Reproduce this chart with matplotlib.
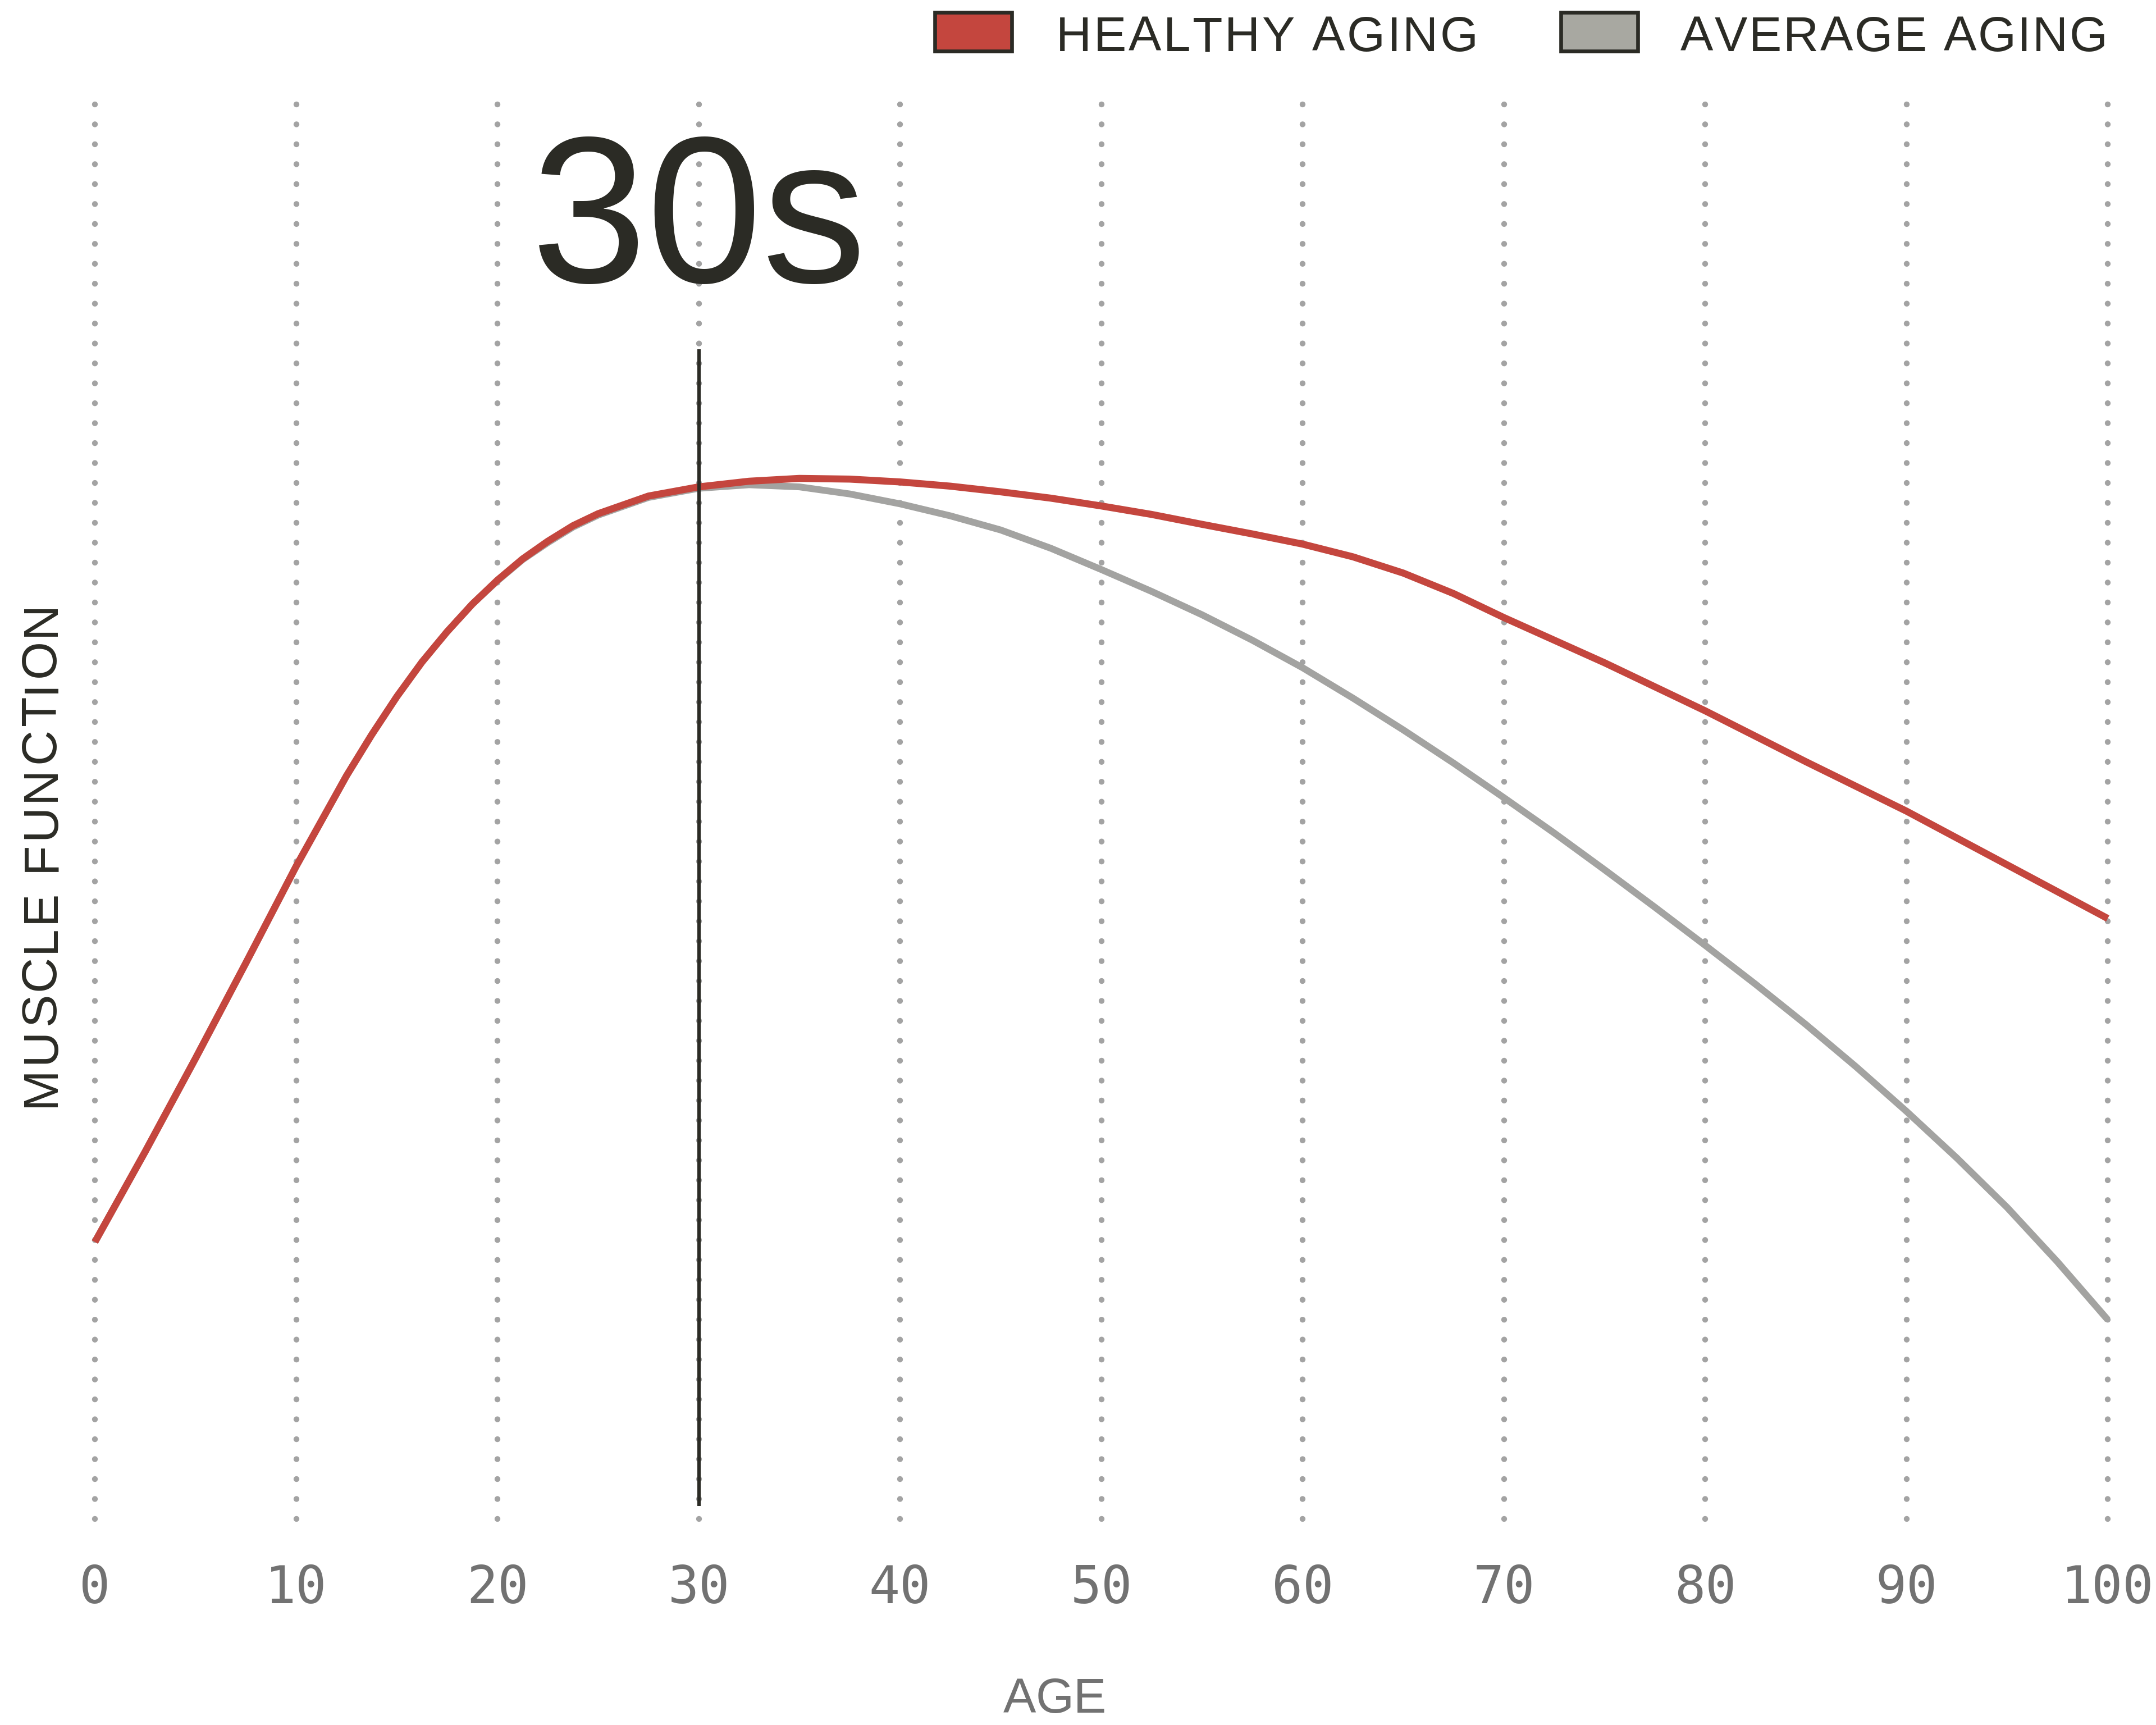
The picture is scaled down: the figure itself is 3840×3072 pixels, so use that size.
import matplotlib
matplotlib.use("Agg")
import matplotlib.pyplot as plt
from matplotlib.patches import Rectangle
from matplotlib import font_manager, ft2font, transforms

plt.rcParams['lines.scale_dashes'] = False

# ---- data ----
healthy_age = [0, 2.5, 5, 7.5, 10, 12.5, 13.75, 15, 16.25, 17.5, 18.75, 20, 21.25, 22.5, 23.75, 25,
               27.5, 30, 32.5, 35, 37.5, 40, 42.5, 45, 47.5, 50, 52.5, 55, 57.5, 60, 62.5, 65,
               67.5, 70, 72.5, 75, 77.5, 80, 82.5, 85, 87.5, 90, 92.5, 95, 97.5, 100]
healthy_val = [19.6, 26.0, 32.6, 39.35, 46.2, 52.6, 55.5, 58.2, 60.65, 62.8, 64.75, 66.45, 67.95,
               69.2, 70.3, 71.15, 72.4, 73.05, 73.45, 73.65, 73.6, 73.4, 73.1, 72.7, 72.25, 71.7,
               71.1, 70.4, 69.72, 69.0, 68.1, 66.95, 65.5, 63.8, 62.2, 60.6, 58.9, 57.2, 55.4, 53.6,
               51.85, 50.1, 48.2, 46.3, 44.4, 42.5]

average_age = [0, 2.5, 5, 7.5, 10, 12.5, 13.75, 15, 16.25, 17.5, 18.75, 20, 21.25, 22.5, 23.75, 25,
               27.5, 30, 32.5, 35, 37.5, 40, 42.5, 45, 47.5, 50, 52.5, 55, 57.5, 60, 62.5, 65,
               67.5, 70, 72.5, 75, 77.5, 80, 82.5, 85, 87.5, 90, 92.5, 95, 97.5, 100]
average_val = [19.6, 26.0, 32.6, 39.35, 46.2, 52.6, 55.5, 58.2, 60.65, 62.8, 64.75, 66.4, 67.9,
               69.1, 70.2, 71.05, 72.3, 72.95, 73.2, 73.05, 72.55, 71.85, 71.0, 70.0, 68.7, 67.2,
               65.65, 64.0, 62.2, 60.25, 58.1, 55.85, 53.5, 51.05, 48.55, 45.95, 43.3, 40.6, 37.85,
               35.0, 32.0, 28.85, 25.55, 22.05, 18.2, 14.1]

tick_ages = [0, 10, 20, 30, 40, 50, 60, 70, 80, 90, 100]
tick_labels = ["0", "10", "20", "30", "40", "50", "60", "70", "80", "90", "100"]

marker_age = 30
marker_label = "30s"
legend_labels = ["HEALTHY AGING", "AVERAGE AGING"]
x_label = "AGE"
y_label = "MUSCLE FUNCTION"

RED = "#C4463E"
GREY = "#A3A3A1"
DARK = "#2B2B25"
LABEL_GREY = "#727272"
DOT_GREY = "#A3A3A3"
SANS = "Liberation Sans"

W, H = 3840, 3072
DPI = 300
fig = plt.figure(figsize=(W / DPI, H / DPI), dpi=DPI)
fig.patch.set_facecolor("white")

left, right = 169 / W, 3754 / W
bottom, top = 1 - 2705 / H, 1 - 189 / H
ax = fig.add_axes([left, bottom, right - left, top - bottom])
ax.set_xlim(0, 100)
ax.set_ylim(0, 100)
for s in ax.spines.values():
    s.set_visible(False)
ax.set_yticks([])

# dotted vertical grid
vl = ax.vlines(tick_ages, 0, 100.4, colors=DOT_GREY, linewidth=2.5,
               linestyles=[(0, (0.01, 8.505))], zorder=1, clip_on=False)
vl.set_capstyle("round")

# curves
ax.plot(average_age, average_val, color=GREY, lw=2.9, zorder=3, clip_on=False,
        solid_capstyle="butt", solid_joinstyle="round")
ax.plot(healthy_age, healthy_val, color=RED, lw=3.0, zorder=4, clip_on=False,
        solid_capstyle="butt", solid_joinstyle="round")

# marker line at 30
ax.vlines([marker_age], 0.9, 82.8, colors=DARK, linewidth=1.45, zorder=5)

# "30s" label
ax.text(marker_age, 1 - 502 / H, marker_label,
        transform=transforms.blended_transform_factory(ax.transData, fig.transFigure),
        ha="center", va="baseline", fontsize=89, color=DARK, family=SANS)

# x ticks
ax.set_xticks(tick_ages)
ax.set_xticklabels(tick_labels, family="DejaVu Sans Mono", fontsize=22, color=LABEL_GREY)
ax.tick_params(axis="x", length=0, pad=19)

# letter-spaced text helper
_font_path = font_manager.findfont(font_manager.FontProperties(family=SANS))


def tracked_text(x_px, y_px, s, size, color, target_len, vertical=False):
    f = ft2font.FT2Font(_font_path)
    f.set_size(size, DPI)
    advs = [f.load_char(ord(c)).linearHoriAdvance / 65536 for c in s]
    tracking = (target_len - sum(advs)) / (len(s) - 1)
    pos = 0.0
    for c, a in zip(s, advs):
        if c != " ":
            if vertical:
                fig.text(x_px / W, 1 - (y_px - pos) / H, c, rotation=90, rotation_mode="anchor",
                         ha="left", va="baseline", fontsize=size, color=color, family=SANS)
            else:
                fig.text((x_px + pos) / W, 1 - y_px / H, c, ha="left", va="baseline",
                         fontsize=size, color=color, family=SANS)
        pos += a + tracking


# axis labels
tracked_text(1787, 3050, x_label, 21, LABEL_GREY, 183)
tracked_text(97, 1971, y_label, 21, DARK, 901, vertical=True)

# legend (manual)
box_y0 = 1 - 91 / H
box_h = (91 - 22) / H
fig.patches.append(Rectangle((1665 / W, box_y0), (1802 - 1665) / W, box_h, transform=fig.transFigure,
                             facecolor=RED, edgecolor=DARK, linewidth=1.6))
fig.patches.append(Rectangle((2780 / W, box_y0), (2917 - 2780) / W, box_h, transform=fig.transFigure,
                             facecolor="#A8A8A1", edgecolor=DARK, linewidth=1.6))
tracked_text(1881, 91, legend_labels[0], 21, DARK, 752)
tracked_text(2993, 91, legend_labels[1], 21, DARK, 761)

fig.savefig("out.png", dpi=DPI, facecolor="white")
